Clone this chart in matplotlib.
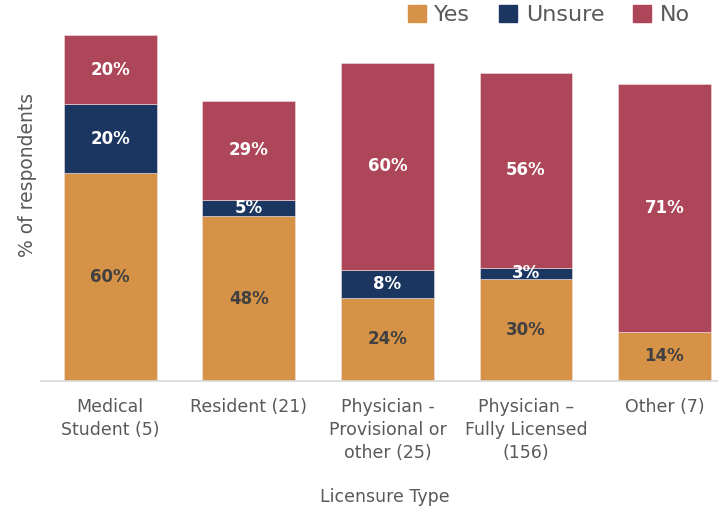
import matplotlib
matplotlib.use("Agg")
import matplotlib.pyplot as plt
from matplotlib.patches import Patch

categories = ["Medical\nStudent (5)", "Resident (21)", "Physician -\nProvisional or\nother (25)",
              "Physician –\nFully Licensed\n(156)", "Other (7)"]
yes = [60, 47.6, 24, 29.5, 14.3]
unsure = [20, 4.8, 8, 3.2, 0]
no = [20, 28.6, 60, 56.4, 71.4]
series_names = ["Yes", "Unsure", "No"]
colors = ["#D69247", "#1B3661", "#AD4658"]
label_colors = ["#404040", "white", "white"]

plt.rcParams['font.family'] = ['DejaVu Sans']
W, H = 718, 512
fig = plt.figure(figsize=(W/100, H/100), dpi=100)
ax = fig.add_axes([41/W, 1-381/H, (718-41)/W, (381-35)/H])

x = list(range(len(categories)))
bottom = [0]*len(categories)
for vals, c, lc in zip([yes, unsure, no], colors, label_colors):
    ax.bar(x, vals, bottom=bottom, width=0.67, color=c, edgecolor="#f0e0e0", linewidth=0.4)
    for i, v in enumerate(vals):
        if v > 0:
            ax.text(i, bottom[i] + v/2, f"{round(v)}%", ha="center", va="center",
                    color=lc, fontsize=12, fontweight="bold")
    bottom = [b + v for b, v in zip(bottom, vals)]

ax.set_xlim(-0.5, 4.386)
ax.set_ylim(0, 100)
ax.set_yticks([])
ax.set_xticks(x)
ax.set_xticklabels(categories, fontsize=12.5, color="#595959", linespacing=1.38)
ax.tick_params(axis="x", length=0, pad=12)
for s in ["top", "right", "left"]:
    ax.spines[s].set_visible(False)
ax.spines["bottom"].set_color("#D9D9D9")
ax.spines["bottom"].set_linewidth(1.2)

fig.text(385/W, 1-497/H, "Licensure Type", ha="center", va="center", fontsize=12.5, color="#595959")
fig.text(28/W, 1-175/H, "% of respondents", ha="center", va="center", rotation=90,
         fontsize=13.5, color="#595959")

handles = [Patch(facecolor=c, edgecolor=c) for c in colors]
leg = fig.legend(handles, series_names, loc="center", bbox_to_anchor=(549/W, 1-15/H), ncol=3,
                 frameon=False, fontsize=16, handlelength=0.8, handleheight=0.8,
                 handletextpad=0.4, columnspacing=1.3, labelcolor="#595959")

fig.savefig("out.png", dpi=100)
